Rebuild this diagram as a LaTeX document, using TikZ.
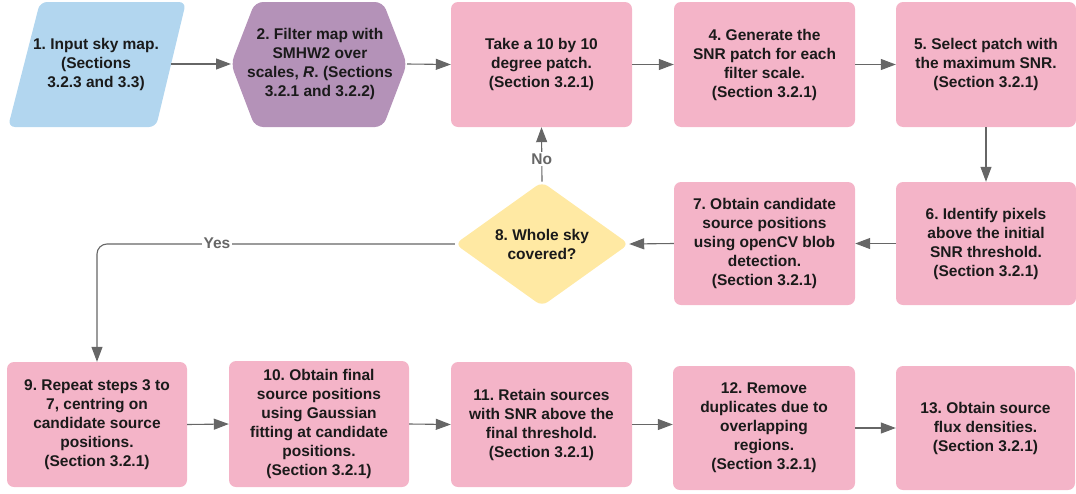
\documentclass[tikz,border=0pt]{standalone}
\usepackage{fontspec}
\setmainfont{Liberation Sans}
\frenchspacing
\usetikzlibrary{arrows.meta,shapes.geometric}
\definecolor{boxpink}{HTML}{F4B4C8}
\definecolor{boxblue}{HTML}{B2D6EF}
\definecolor{boxpurple}{HTML}{B492B8}
\definecolor{boxyellow}{HTML}{FFE9A3}
\definecolor{arrgray}{HTML}{666666}
\definecolor{txt}{HTML}{1A1A1A}
\tikzset{
  txtstyle/.style={font=\fontsize{15.5}{19}\selectfont\bfseries\frenchspacing, text=txt, align=center, inner sep=0pt},
  stepbox/.style={txtstyle, rectangle, rounded corners=7pt, fill=boxpink, minimum width=181pt, minimum height=125pt},
  arr/.style={draw=arrgray, line width=1.1pt, -{Triangle[length=15pt,width=11pt]}},
  lbl/.style={font=\fontsize{15.5}{19}\selectfont\bfseries, text=arrgray, fill=white, inner sep=1.5pt}
}
\begin{document}
\begin{tikzpicture}[x=1pt,y=-1pt]
\useasboundingbox (0,0) rectangle (1076,493);
% 1: parallelogram
\fill[boxblue, rounded corners=7pt] (40,2) -- (186,2) -- (156,127) -- (8,127) -- cycle;
\node[txtstyle] (n1) at (96,64) {1. Input sky map.\\(Sections\\3.2.3 and 3.3)};
\coordinate (c1r) at (171,64);
% 2: hexagon
\fill[boxpurple, rounded corners=8pt] (231,64) -- (255,2) -- (383,2) -- (407,64) -- (383,127) -- (255,127) -- cycle;
\node[txtstyle] (n2) at (320,64) {2. Filter map with\\SMHW2 over\\scales, \textit{R}. (Sections\\3.2.1 and 3.2.2)};
\coordinate (c2l) at (231,64);
\coordinate (c2r) at (407,64);
% boxes
\node[stepbox] (n3) at (541.5,64.5) {Take a 10 by 10\\degree patch.\\(Section 3.2.1)};
\node[stepbox] (n4) at (764.5,64.5) {4. Generate the\\SNR patch for each\\filter scale.\\(Section 3.2.1)};
\node[stepbox, minimum width=180pt] (n5) at (986,64.5) {5. Select patch with\\the maximum SNR.\\(Section 3.2.1)};
\node[stepbox, minimum width=180pt, minimum height=123pt] (n6) at (986,243.5) {6. Identify pixels\\above the initial\\SNR threshold.\\(Section 3.2.1)};
\node[stepbox, minimum height=123pt] (n7) at (764.5,243.5) {7. Obtain candidate\\source positions\\using openCV blob\\detection.\\(Section 3.2.1)};
\node[txtstyle, diamond, fill=boxyellow, rounded corners=7pt, minimum width=174pt, minimum height=120pt] (n8) at (542,244) {8. Whole sky\\covered?};
\node[stepbox, minimum width=180pt] (n9) at (97,424.5) {9. Repeat steps 3 to\\7, centring on\\candidate source\\positions.\\(Section 3.2.1)};
\node[stepbox, minimum width=180pt, minimum height=126pt] (n10) at (319,424) {10. Obtain final\\source positions\\using Gaussian\\fitting at candidate\\positions.\\(Section 3.2.1)};
\node[stepbox] (n11) at (541.5,424.5) {11. Retain sources\\with SNR above the\\final threshold.\\(Section 3.2.1)};
\node[stepbox, minimum width=182pt, minimum height=124pt] (n12) at (764,428) {12. Remove\\duplicates due to\\overlapping\\regions.\\(Section 3.2.1)};
\node[stepbox, minimum width=179pt, minimum height=124pt] (n13) at (985.5,428) {13. Obtain source\\flux densities.\\(Section 3.2.1)};
% connectors
\draw[arr] (c1r) -- (c2l);
\draw[arr] (c2r) -- (n3.west);
\draw[arr] (n3.east) -- (n4.west);
\draw[arr] (n4.east) -- (n5.west);
\draw[arr] (n5.south) -- (n6.north);
\draw[arr] (n6.west) -- (n7.east);
\draw[arr] (n7.west) -- (n8.east);
\draw[arr] (n8.north) -- node[lbl, pos=0.42] (no) {No} (n3.south);
\coordinate (ycorner) at (97,244);
\draw[arr, rounded corners=10pt] (n8.west) -- (ycorner) -- (n9.north);
\node[lbl] (yes) at (217,243) {Yes};
\draw[arr] (n9.east) -- (n10.west);
\draw[arr] (n10.east) -- (n11.west);
\draw[arr] (n11.east) -- (n11.east -| n12.west);
\draw[arr] (n12.east) -- (n13.west);
\end{tikzpicture}
\end{document}
